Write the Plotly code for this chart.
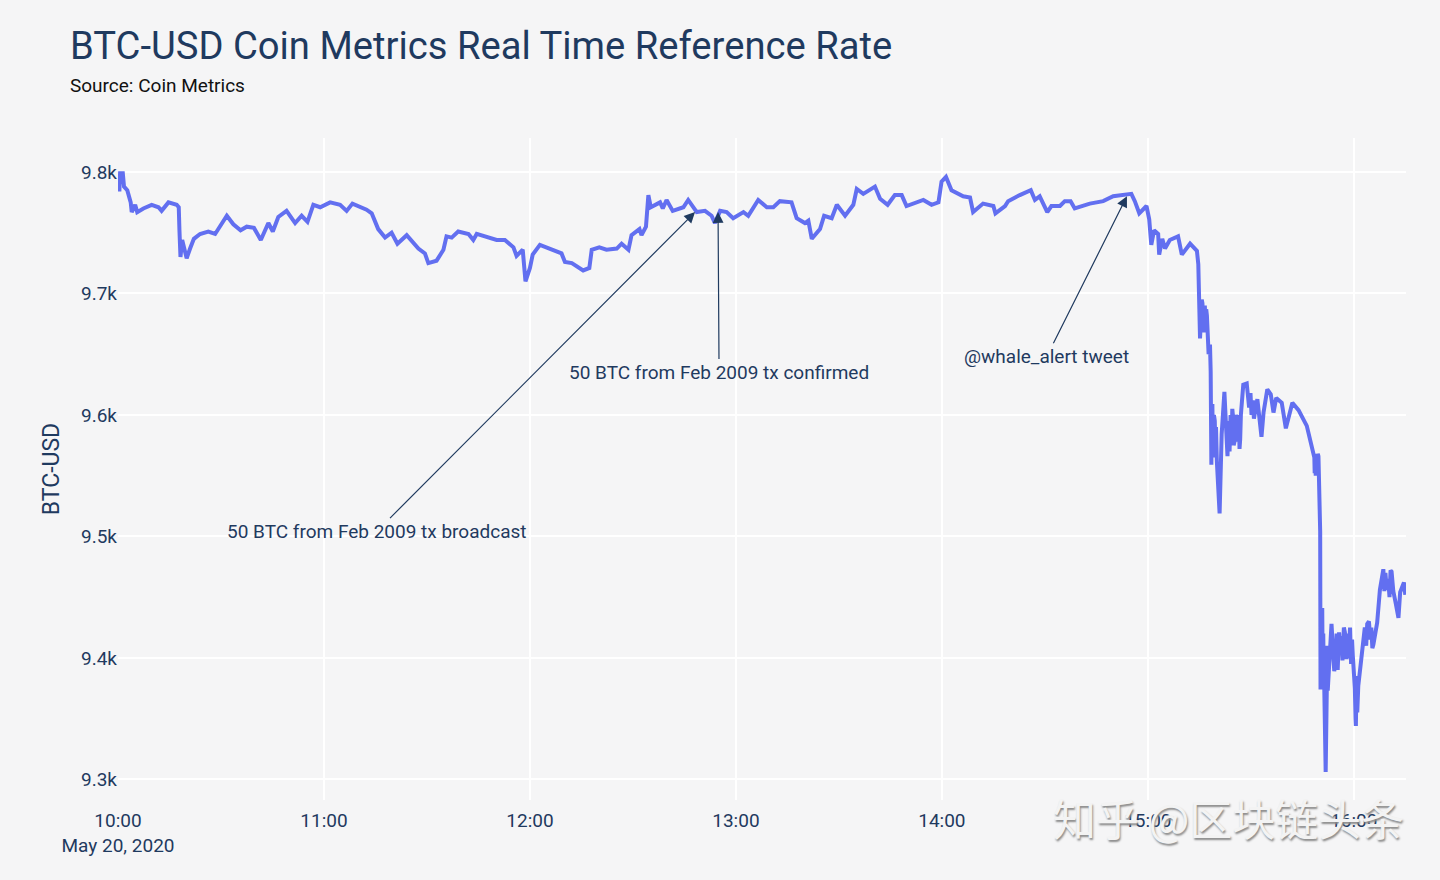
import pandas as pd
import plotly.graph_objects as go

start_time = "2020-05-20 10:00"

# minutes after 10:00 and the rate in USD
minutes = [
    0.4, 0.6, 1.4, 1.75, 2.7, 3.7, 4.0, 5.0, 5.6, 7.4, 9.8, 11.8, 12.7, 14.7, 17.1, 17.7, 17.9, 18.2, 18.7, 20.0,
    21.0, 22.1, 23.9, 26.3, 28.3, 30.2, 31.7, 33.6, 35.7, 37.5, 39.6, 41.6, 43.8, 45.1, 46.7, 49.1, 51.6, 53.5, 55.2, 56.9,
    58.9, 61.8, 64.7, 66.6, 68.3, 72.4, 73.9, 75.8, 77.8, 79.7, 81.4, 84.1, 87.5, 89.4, 90.4, 92.8, 94.8, 95.7, 97.2, 99.1,
    102.1, 103.5, 104.5, 110.3, 112.7, 115.2, 116.1, 117.9, 118.7, 120.0, 120.8, 122.9, 125.8, 129.2, 130.2, 132.2, 135.5, 137.3, 138.0, 140.2,
    142.3, 145.3, 146.7, 148.7, 149.6, 151.9, 152.5, 153.8, 154.5, 155.2, 157.9, 158.7, 159.8, 161.6, 164.7, 166.1, 168.6, 171.0, 172.9, 173.9,
    175.4, 177.3, 179.2, 182.2, 183.6, 186.5, 189.0, 190.9, 192.8, 196.2, 197.7, 200.1, 201.1, 202.1, 204.5, 205.7, 207.9, 209.4, 211.8, 214.2,
    215.2, 217.1, 220.5, 222.0, 224.2, 226.3, 228.3, 229.7, 234.6, 237.0, 239.0, 239.9, 241.2, 242.8, 246.2, 248.2, 249.1, 252.0, 255.0, 255.6,
    258.4, 259.3, 262.7, 265.9, 267.1, 268.5, 270.7, 271.9, 274.4, 275.8, 277.5, 278.7, 283.1, 287.0, 289.9, 293.8, 295.2, 296.2, 297.5, 299.6,
    300.4, 301.0, 301.8, 303.0, 303.3, 304.2, 305.0, 306.4, 308.8, 309.9, 312.3, 314.3, 314.7, 315.2, 315.7, 316.2, 317.0, 317.7, 318.1, 318.3,
    318.5, 318.8, 319.1, 319.5, 320.1, 320.9, 321.5, 322.3, 323.2, 324.8, 325.4, 326.1, 326.9, 327.8, 328.8, 329.5, 331.2, 331.9, 333.1, 333.7,
    334.8, 335.8, 336.6, 337.4, 339.0, 340.2, 342.1, 343.9, 346.3, 348.2, 348.9, 349.7, 350.2, 350.3, 350.8, 351.4, 351.8, 352.4, 353.5, 354.3,
    355.7, 356.0, 357.4, 357.9, 358.9, 359.7, 360.6, 361.3, 363.2, 364.4, 365.7, 366.8, 367.6, 368.6, 369.6, 371.0, 373.0, 373.5, 374.6, 375.0,
]
rate = [
    9784, 9799, 9799, 9788, 9785, 9775, 9767, 9773, 9767, 9770, 9773, 9771, 9768, 9775, 9773, 9771, 9752, 9730, 9744, 9729,
    9737, 9745, 9749, 9751, 9749, 9758, 9764, 9757, 9752, 9755, 9754, 9744, 9758, 9751, 9763, 9768, 9758, 9764, 9759, 9773,
    9771, 9775, 9773, 9768, 9774, 9769, 9766, 9753, 9746, 9750, 9741, 9748, 9737, 9733, 9725, 9727, 9736, 9747, 9746, 9751,
    9749, 9744, 9749, 9744, 9744, 9738, 9731, 9736, 9710, 9721, 9732, 9740, 9737, 9733, 9726, 9725, 9719, 9721, 9736, 9738,
    9736, 9737, 9741, 9736, 9748, 9753, 9748, 9755, 9781, 9771, 9775, 9770, 9777, 9768, 9771, 9777, 9767, 9768, 9764, 9758,
    9768, 9767, 9762, 9767, 9764, 9777, 9771, 9771, 9776, 9775, 9762, 9758, 9760, 9745, 9753, 9764, 9762, 9773, 9764, 9773,
    9786, 9782, 9788, 9778, 9773, 9781, 9781, 9772, 9777, 9773, 9775, 9792, 9796, 9785, 9780, 9779, 9767, 9774, 9772, 9766,
    9772, 9776, 9781, 9785, 9777, 9780, 9767, 9772, 9772, 9776, 9776, 9770, 9774, 9776, 9780, 9782, 9782, 9776, 9766, 9772,
    9761, 9740, 9752, 9749, 9732, 9745, 9737, 9744, 9747, 9732, 9741, 9735, 9724, 9663, 9695, 9673, 9687, 9650, 9658, 9636,
    9559, 9609, 9572, 9595, 9562, 9519, 9584, 9619, 9566, 9599, 9580, 9595, 9580, 9625, 9626, 9606, 9602, 9613, 9582, 9602,
    9621, 9617, 9602, 9614, 9610, 9589, 9610, 9604, 9591, 9567, 9550, 9566, 9504, 9374, 9441, 9374, 9306, 9373, 9428, 9389,
    9421, 9403, 9421, 9399, 9425, 9402, 9344, 9377, 9425, 9430, 9411, 9429, 9456, 9473, 9456, 9471, 9433, 9454, 9462, 9452,
]

# extra readings where the line swings so fast it looks filled in
swing_minutes = [
    315.4, 315.9, 316.4, 316.6, 316.8, 317.2, 318.65, 318.95, 319.25, 319.7, 319.85,
    323.5, 323.8, 324.1, 324.4, 324.6, 325.0, 325.7, 326.3, 326.5, 326.7, 327.1,
    329.9, 330.2, 330.6, 330.9, 348.5, 348.6, 348.75, 349.1, 349.3, 349.5,
    350.5, 350.6, 350.7, 350.95, 351.1, 351.25, 352.0, 352.15, 352.3,
    354.7, 355.0, 355.3, 356.4, 356.7, 357.1, 358.2, 358.5, 359.2, 359.5,
    360.3, 360.5, 360.8, 361.0, 363.6, 363.9, 364.8, 365.1, 365.4,
    368.9, 369.2, 370.0, 370.4, 370.7, 371.5, 372.2,
]
swing_rate = [
    9672, 9692, 9668, 9690, 9670, 9682, 9600, 9565, 9600, 9565, 9590,
    9595, 9570, 9600, 9578, 9605, 9575, 9600, 9578, 9600, 9572, 9600,
    9618, 9600, 9612, 9597, 9565, 9552, 9568, 9565, 9550, 9568,
    9430, 9375, 9440, 9380, 9420, 9376, 9400, 9375, 9410,
    9400, 9420, 9390, 9418, 9398, 9425, 9420, 9400, 9395, 9415,
    9375, 9350, 9385, 9355, 9410, 9428, 9415, 9425, 9408,
    9455, 9470, 9465, 9450, 9472, 9455, 9445,
]

note_texts = ["50 BTC from Feb 2009 tx broadcast", "50 BTC from Feb 2009 tx confirmed", "@whale_alert tweet"]
note_minutes = [168.1, 174.8, 293.9]
note_rates = [9767, 9767, 9780]
note_ax = [-318, 1, -80]
note_ay = [319, 160, 160]

navy = "#1f3a5f"
bg = "#f5f5f6"


def to_time(mins):
    return pd.Timestamp(start_time) + pd.to_timedelta(mins, unit="m")


df = pd.DataFrame({"minute": minutes + swing_minutes, "rate": rate + swing_rate}).sort_values("minute")

fig = go.Figure(
    go.Scatter(
        x=to_time(df["minute"]),
        y=df["rate"],
        mode="lines",
        line=dict(color="#626ff0", width=4),
    )
)

for text, m, r, ax, ay in zip(note_texts, note_minutes, note_rates, note_ax, note_ay):
    fig.add_annotation(
        x=to_time(m), y=r, text=text, ax=ax, ay=ay,
        showarrow=True, arrowhead=2, arrowsize=1.8, arrowwidth=1.2, arrowcolor=navy,
        font=dict(size=19, color=navy),
    )

fig.add_annotation(
    xref="paper", yref="paper", x=-0.039, y=1.080, xanchor="left", yanchor="middle",
    text="Source: Coin Metrics", showarrow=False,
    font=dict(size=19, color="#111111"),
)

# watermark sits on top of the last two tick labels, as in the source image
fig.add_annotation(
    xref="paper", yref="paper", x=1.0, y=-0.0257, xanchor="right", yanchor="middle",
    text="知乎 @区块链头条", showarrow=False,
    font=dict(family="Noto Sans CJK SC", size=43, color="#f3f3f3", shadow="1px 2px 2px #8a8a8a"),
)

fig.update_layout(
    width=1440,
    height=880,
    margin=dict(l=118, r=34, t=138, b=80),
    paper_bgcolor=bg,
    plot_bgcolor=bg,
    showlegend=False,
    font=dict(family="Roboto", size=19, color=navy),
    title=dict(
        text="BTC-USD Coin Metrics Real Time Reference Rate",
        x=70 / 1440, xanchor="left", y=1 - 46 / 880, yanchor="middle",
        font=dict(size=38.2, color=navy),
    ),
    xaxis=dict(
        range=[to_time(0), to_time(375.2)],
        dtick=3600000,
        ticks="outside", ticklen=3, tickcolor=bg,
        showgrid=True, gridcolor="white", gridwidth=1.5,
        zeroline=False,
    ),
    yaxis=dict(
        title=dict(text="BTC-USD", standoff=14),
        range=[9283, 9828],
        dtick=100,
        showgrid=True, gridcolor="white", gridwidth=1.5,
        zeroline=False,
    ),
)

fig.write_html(
    "out.html",
    config={"displayModeBar": False},
    post_script="document.body.style.margin = '0';",
)
